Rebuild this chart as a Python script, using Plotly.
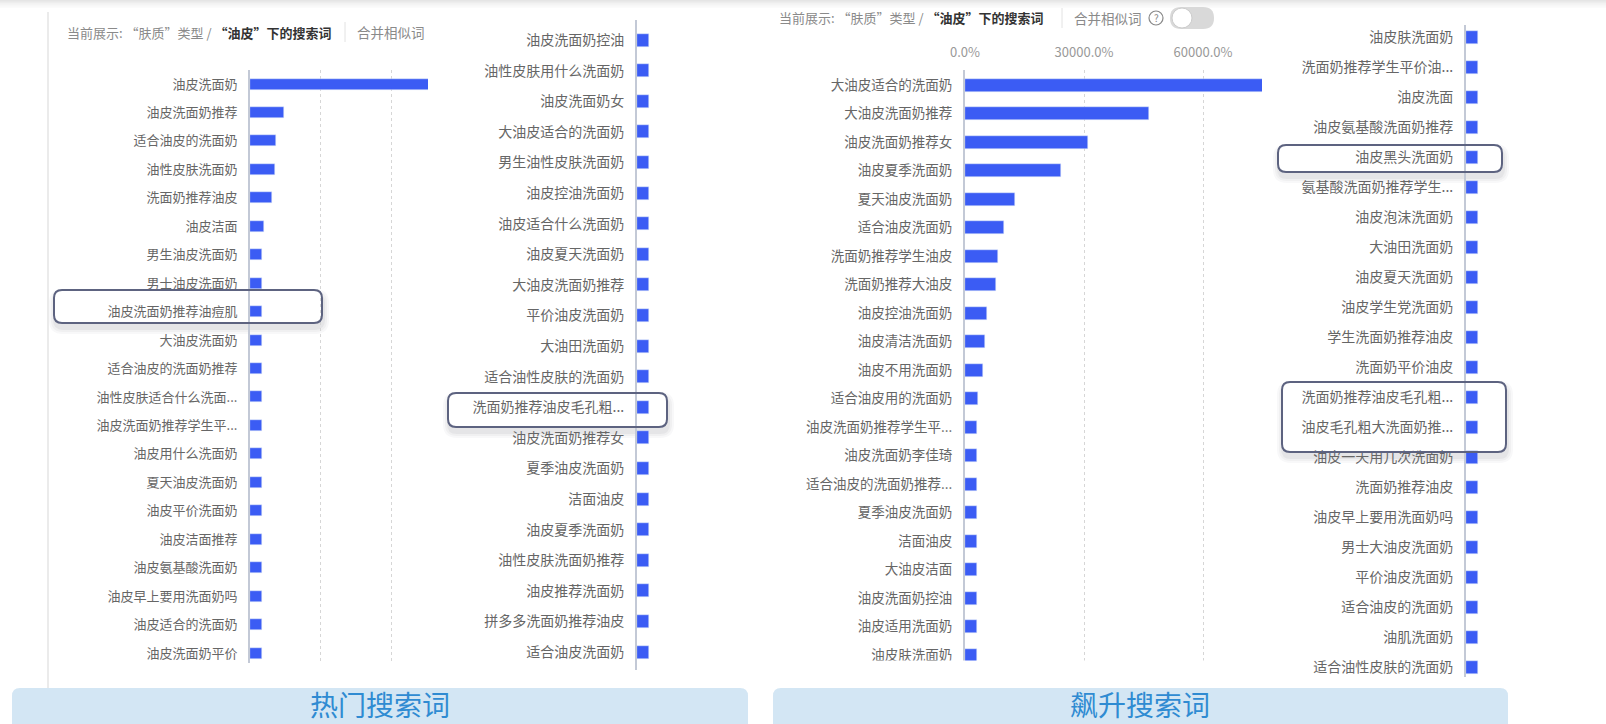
import plotly.graph_objects as go

W, H = 1606, 724
FONT = "Noto Sans CJK SC, Noto Sans, sans-serif"
BAR = "#3b5cf4"
AXIS = "#c3c9d6"
LABEL = "#666666"

# ---- 热门搜索词 (left block, two columns) ----
hot_terms_a = [
    "油皮洗面奶", "油皮洗面奶推荐", "适合油皮的洗面奶", "油性皮肤洗面奶", "洗面奶推荐油皮",
    "油皮洁面", "男生油皮洗面奶", "男士油皮洗面奶", "油皮洗面奶推荐油痘肌", "大油皮洗面奶",
    "适合油皮的洗面奶推荐", "油性皮肤适合什么洗面...", "油皮洗面奶推荐学生平...", "油皮用什么洗面奶",
    "夏天油皮洗面奶", "油皮平价洗面奶", "油皮洁面推荐", "油皮氨基酸洗面奶", "油皮早上要用洗面奶吗",
    "油皮适合的洗面奶", "油皮洗面奶平价",
]
hot_values_a = [400, 48, 37, 35, 31, 20, 17, 17, 17, 17, 17, 17, 17, 17, 17, 17, 17, 17, 17, 17, 17]

hot_terms_b = [
    "油皮洗面奶控油", "油性皮肤用什么洗面奶", "油皮洗面奶女", "大油皮适合的洗面奶", "男生油性皮肤洗面奶",
    "油皮控油洗面奶", "油皮适合什么洗面奶", "油皮夏天洗面奶", "大油皮洗面奶推荐", "平价油皮洗面奶",
    "大油田洗面奶", "适合油性皮肤的洗面奶", "洗面奶推荐油皮毛孔粗...", "油皮洗面奶推荐女", "夏季油皮洗面奶",
    "洁面油皮", "油皮夏季洗面奶", "油性皮肤洗面奶推荐", "油皮推荐洗面奶", "拼多多洗面奶推荐油皮",
    "适合油皮洗面奶",
]
hot_values_b = [17] * 21

# ---- 飙升搜索词 (right block, two columns, growth in %) ----
rise_terms_a = [
    "大油皮适合的洗面奶", "大油皮洗面奶推荐", "油皮洗面奶推荐女", "油皮夏季洗面奶", "夏天油皮洗面奶",
    "适合油皮洗面奶", "洗面奶推荐学生油皮", "洗面奶推荐大油皮", "油皮控油洗面奶", "油皮清洁洗面奶",
    "油皮不用洗面奶", "适合油皮用的洗面奶", "油皮洗面奶推荐学生平...", "油皮洗面奶李佳琦",
    "适合油皮的洗面奶推荐...", "夏季油皮洗面奶", "洁面油皮", "大油皮洁面", "油皮洗面奶控油",
    "油皮适用洗面奶", "油皮肤洗面奶",
]
rise_values_a = [78000, 46400, 31000, 24200, 12600, 9800, 8300, 7800, 5500, 5000,
                 4500, 3300, 3000, 3000, 3000, 3000, 3000, 3000, 3000, 3000, 3000]

rise_terms_b = [
    "油皮肤洗面奶", "洗面奶推荐学生平价油...", "油皮洗面", "油皮氨基酸洗面奶推荐", "油皮黑头洗面奶",
    "氨基酸洗面奶推荐学生...", "油皮泡沫洗面奶", "大油田洗面奶", "油皮夏天洗面奶", "油皮学生党洗面奶",
    "学生洗面奶推荐油皮", "洗面奶平价油皮", "洗面奶推荐油皮毛孔粗...", "油皮毛孔粗大洗面奶推...",
    "油皮一天用几次洗面奶", "洗面奶推荐油皮", "油皮早上要用洗面奶吗", "男士大油皮洗面奶",
    "平价油皮洗面奶", "适合油皮的洗面奶", "油肌洗面奶", "适合油性皮肤的洗面奶",
]
rise_values_b = [3000] * 22

rise_ticks = [0, 30000, 60000]
rise_tick_text = [f"{v:.1f}%" for v in rise_ticks]

hx = lambda x: x / W
hy = lambda y: 1 - y / H

fig = go.Figure()

# panel layout: (terms, values, x0, x1, y0, y1, first row centre, row pitch,
#                px per unit, bar px, label font size)
panels = [
    (hot_terms_a, hot_values_a, 250, 428, 70, 663, 84, 28.45, 70.5 / 100, 11, 13),
    (hot_terms_b, hot_values_b, 637, 700, 20, 670, 40, 30.6, 70.5 / 100, 13, 14),
    (rise_terms_a, rise_values_a, 965, 1262, 70, 661, 85, 28.5, 119 / 30000, 13, 13.5),
    (rise_terms_b, rise_values_b, 1466, 1530, 25, 677, 37, 30.0, 119 / 30000, 13, 14),
]

for k, (terms, vals, x0, x1, y0, y1, r0, pitch, ppu, bpx, fs) in enumerate(panels):
    n = "" if k == 0 else str(k + 1)
    fig.add_trace(go.Bar(
        x=vals, y=terms, orientation="h", marker_color=BAR, width=bpx / pitch,
        xaxis="x" + n, yaxis="y" + n, showlegend=False,
        hovertemplate="%{y}: %{x}<extra></extra>",
    ))
    r_top = (y0 - r0) / pitch
    r_bot = r_top + (y1 - y0) / pitch
    xa = dict(
        domain=[hx(x0), hx(x1)], range=[0, (x1 - x0) / ppu], anchor="y" + n,
        zeroline=False, showline=False, fixedrange=True, automargin=False,
        showgrid=k in (0, 2), gridcolor="#d6d6d6", griddash="3px,3px", gridwidth=1,
        showticklabels=(k == 2),
    )
    if k == 0:
        xa.update(tickvals=[100, 200])
    if k == 2:
        xa.update(side="top", tickvals=rise_ticks, ticktext=rise_tick_text,
                  ticks="outside", ticklen=7, tickcolor="rgba(0,0,0,0)",
                  tickfont=dict(size=13, color="#999999", family=FONT))
    ya = dict(
        domain=[hy(y1), hy(y0)], anchor="x" + n, type="category", automargin=False,
        categoryorder="array", categoryarray=terms, range=[r_bot, r_top],
        showline=True, linecolor=AXIS, linewidth=2, showgrid=False, zeroline=False,
        ticks="outside", ticklen=8, tickcolor="rgba(0,0,0,0)",
        tickfont=dict(size=fs, color=LABEL, family=FONT), fixedrange=True,
    )
    fig.layout["xaxis" + n] = xa
    fig.layout["yaxis" + n] = ya

shapes = []
annotations = []


def rr(x0, y0, x1, y1, r):
    pts = [
        ("M", x0 + r, y0), ("L", x1 - r, y0), ("Q", x1, y0, x1, y0 + r),
        ("L", x1, y1 - r), ("Q", x1, y1, x1 - r, y1), ("L", x0 + r, y1),
        ("Q", x0, y1, x0, y1 - r), ("L", x0, y0 + r), ("Q", x0, y0, x0 + r, y0),
    ]
    out = []
    for p in pts:
        c = p[0]
        coords = p[1:]
        s = c + " " + " ".join(
            f"{hx(coords[i]):.5f},{hy(coords[i + 1]):.5f}" for i in range(0, len(coords), 2))
        out.append(s)
    return " ".join(out) + " Z"


# soft shadow along the top edge
for i, a in enumerate([0.10, 0.07, 0.05, 0.03, 0.015]):
    shapes.append(dict(type="rect", xref="paper", yref="paper", x0=0, x1=1,
                       y0=hy(i * 1.6 + 1.6), y1=hy(i * 1.6), line_width=0,
                       fillcolor=f"rgba(0,0,0,{a})", layer="below"))

# left card border
shapes.append(dict(type="line", xref="paper", yref="paper", x0=hx(48), x1=hx(48),
                   y0=hy(12), y1=hy(690), line=dict(color="#ebebeb", width=2), layer="below"))

# header separators
for sx, sy in [(345, 32), (1062, 18)]:
    shapes.append(dict(type="line", xref="paper", yref="paper", x0=hx(sx), x1=hx(sx),
                       y0=hy(sy - 10), y1=hy(sy + 10), line=dict(color="#e2e2e2", width=1)))

# half-hidden last row of the rising list
shapes.append(dict(type="rect", xref="paper", yref="paper", x0=hx(830), x1=hx(1270),
                   y0=hy(672), y1=hy(660.5), fillcolor="white", line_width=0, layer="above"))

# help icon and toggle switch
shapes.append(dict(type="circle", xref="paper", yref="paper", x0=hx(1149), x1=hx(1163),
                   y0=hy(25), y1=hy(11), line=dict(color="#888888", width=1.2)))
shapes.append(dict(type="path", xref="paper", yref="paper", path=rr(1170, 7, 1214, 29, 11),
                   fillcolor="#d9d9d9", line_width=0))
shapes.append(dict(type="circle", xref="paper", yref="paper", x0=hx(1172), x1=hx(1192),
                   y0=hy(28), y1=hy(8), fillcolor="white", line=dict(color="#cccccc", width=1)))

# highlight frames: soft drop shadow, white card, outline
boxes = [(54, 290, 322, 323), (448, 393, 667, 427), (1278, 145, 1502, 172), (1282, 382, 1506, 452)]
for bx0, by0, bx1, by1 in boxes:
    for d, a in [(6, 0.035), (4, 0.045), (2, 0.06)]:
        shapes.append(dict(type="path", xref="paper", yref="paper",
                           path=rr(bx0 - d + 1, by0 - d + 5, bx1 + d + 1, by1 + d + 5, 8 + d),
                           fillcolor=f"rgba(60,60,80,{a})", line_width=0, layer="below"))
    shapes.append(dict(type="path", xref="paper", yref="paper", path=rr(bx0, by0, bx1, by1, 8),
                       fillcolor="white", line_width=0, layer="below"))
    shapes.append(dict(type="path", xref="paper", yref="paper", path=rr(bx0, by0, bx1, by1, 8),
                       line=dict(color="#5d6380", width=2), fillcolor="rgba(0,0,0,0)"))

# caption bars
for cx0, cx1 in [(12, 748), (773, 1508)]:
    shapes.append(dict(type="path", xref="paper", yref="paper", path=rr(cx0, 688, cx1, 734, 8),
                       fillcolor="#d3e6f4", line_width=0, layer="below"))


def note(text, x, y, size, color, xanchor="center"):
    annotations.append(dict(text=text, x=hx(x), y=hy(y), xref="paper", yref="paper",
                            xanchor=xanchor, yanchor="middle", showarrow=False,
                            borderpad=0, font=dict(size=size, color=color, family=FONT)))


note("热门搜索词", 380, 704, 28, "#2f8bd2")
note("飙升搜索词", 1140, 704, 28, "#2f8bd2")

header = ("当前展示: “肤质”类型 / "
          "<span style='color:#333333'><b>“油皮”下的搜索词</b></span>")
note(header, 66, 32, 13, "#8a8a8a", "left")
note(header, 778, 18, 13, "#8a8a8a", "left")
note("合并相似词", 356, 32, 13.5, "#8a8a8a", "left")
note("合并相似词", 1073, 18, 13.5, "#8a8a8a", "left")
note("?", 1156, 18, 10, "#888888")

fig.update_layout(
    width=W, height=H, autosize=False,
    margin=dict(l=0, r=0, t=0, b=0, autoexpand=False),
    paper_bgcolor="white", plot_bgcolor="rgba(0,0,0,0)",
    font=dict(family=FONT),
    bargap=0, shapes=shapes, annotations=annotations,
)

fig.write_html("out.html")
